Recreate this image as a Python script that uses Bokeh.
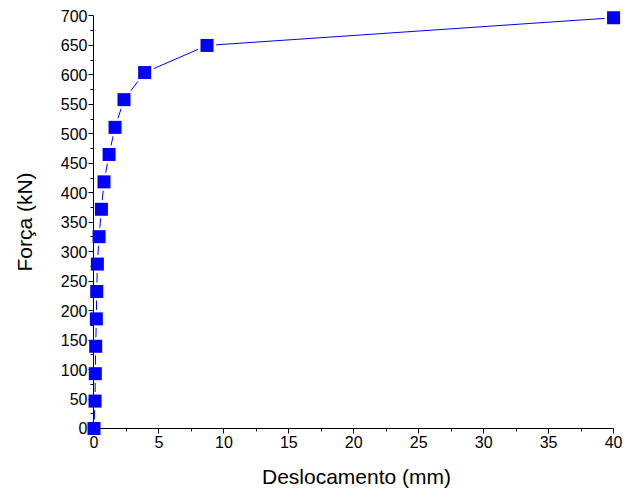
from bokeh.plotting import figure
from bokeh.models import Range1d, FixedTicker, LinearAxis, CustomJSTickFormatter
from bokeh.embed import file_html
from bokeh.resources import INLINE

# Data
deslocamento = [0.0, 0.08, 0.10, 0.13, 0.18, 0.21, 0.26, 0.39, 0.57, 0.77,
                1.16, 1.62, 2.31, 3.90, 8.70, 40.0]
forca = [0, 46.5, 93, 139.5, 186, 232.5, 279, 325.5, 372, 418.5,
         465, 511, 558, 604, 650, 697]

x_ticks = [0, 5, 10, 15, 20, 25, 30, 35, 40]
x_minor = [2.5, 7.5, 12.5, 17.5, 22.5, 27.5, 32.5, 37.5]
y_ticks = [0, 50, 100, 150, 200, 250, 300, 350, 400, 450, 500, 550, 600, 650, 700]
y_minor = [25, 75, 125, 175, 225, 275, 325, 375, 425, 475, 525, 575, 625, 675]

FONT = "Liberation Sans"
BLUE = "#0000ff"

p = figure(width=625, height=495, output_backend="svg", toolbar_location=None,
           x_range=Range1d(-0.5, 40.92), y_range=Range1d(-11.9, 712.7),
           x_axis_type=None, y_axis_type=None,
           min_border_left=87, min_border_right=0, min_border_top=8,
           min_border_bottom=60)
p.outline_line_color = None

# Axis lines + ticks placed at data zero (innermost slots)
blank = CustomJSTickFormatter(code="return ''")
xline = LinearAxis(ticker=FixedTicker(ticks=x_ticks, minor_ticks=x_minor),
                   formatter=blank, fixed_location=0,
                   bounds=(x_ticks[0], x_ticks[-1]))
yline = LinearAxis(ticker=FixedTicker(ticks=y_ticks, minor_ticks=y_minor),
                   formatter=blank, fixed_location=0,
                   bounds=(y_ticks[0], y_ticks[-1]))
for ax in (xline, yline):
    ax.axis_line_color = "black"
    ax.axis_line_width = 1
    ax.major_tick_line_color = "black"
    ax.minor_tick_line_color = "black"
    ax.major_tick_out = 5
    ax.major_tick_in = 0
    ax.minor_tick_out = 3
    ax.minor_tick_in = 0
    ax.major_label_standoff = 0
    ax.major_label_text_font_size = "1px"
p.add_layout(xline, "below")
p.add_layout(yline, "left")

# Label-only axes (outer slots)
xlab = LinearAxis(ticker=FixedTicker(ticks=x_ticks, minor_ticks=[]),
                  axis_label="Deslocamento (mm)")
ylab = LinearAxis(ticker=FixedTicker(ticks=y_ticks, minor_ticks=[]),
                  axis_label="Força (kN)")
for ax in (xlab, ylab):
    ax.axis_line_color = None
    ax.major_tick_line_color = None
    ax.minor_tick_line_color = None
    ax.major_tick_out = 0
    ax.major_tick_in = 0
    ax.minor_tick_out = 0
    ax.minor_tick_in = 0
    ax.major_label_text_font = FONT
    ax.major_label_text_font_size = "16px"
    ax.major_label_text_color = "black"
    ax.axis_label_text_font = FONT
    ax.axis_label_text_font_size = "21px"
    ax.axis_label_text_font_style = "normal"
    ax.axis_label_text_color = "black"
xlab.major_label_standoff = 0
ylab.major_label_standoff = 0
xlab.axis_label_standoff = 14
ylab.axis_label_standoff = 22
p.add_layout(xlab, "below")
p.add_layout(ylab, "left")

p.line(deslocamento, forca, line_color=BLUE, line_width=1)
p.scatter(deslocamento, forca, marker="square", size=18,
          fill_color="white", line_color=None)
p.scatter(deslocamento, forca, marker="square", size=13,
          fill_color=BLUE, line_color=None, level="overlay")

open("out.html", "w").write(file_html(p, INLINE))
